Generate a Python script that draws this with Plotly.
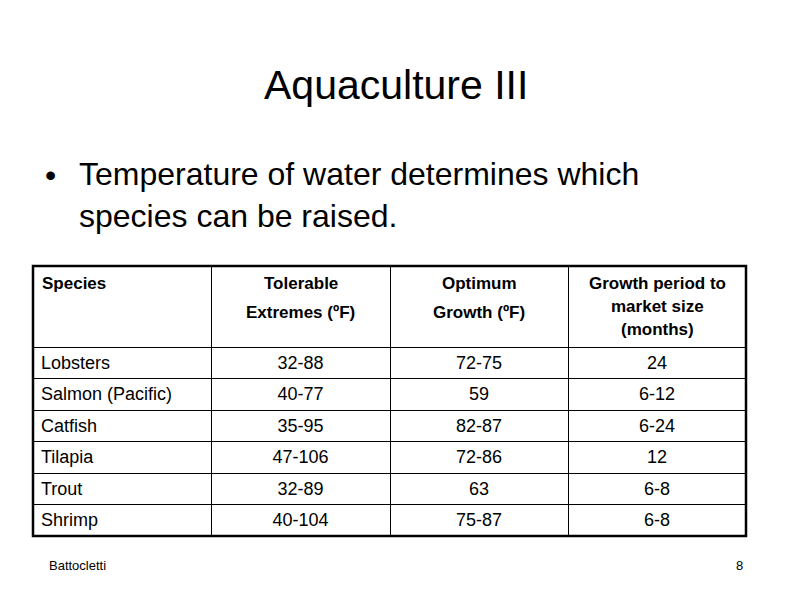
import plotly.graph_objects as go

species = ["Lobsters", "Salmon (Pacific)", "Catfish", "Tilapia", "Trout", "Shrimp"]
tolerable = ["32-88", "40-77", "35-95", "47-106", "32-89", "40-104"]
optimum = ["72-75", "59", "82-87", "72-86", "63", "75-87"]
growth = ["24", "6-12", "6-24", "12", "6-8", "6-8"]
header_lines = [
    ["Species"],
    ["Tolerable", "Extremes (ºF)"],
    ["Optimum", "Growth (ºF)"],
    ["Growth period to", "market size", "(months)"],
]

W, H = 792, 612
OFF = 8  # page body margin
font = "Liberation Sans, Arial"
x0, x1, y0, y1 = 33, 746, 266, 536
col_edges = [33, 211, 390, 568, 746]


def px(x):
    return (x - OFF) / W


def py(y):
    return 1 - (y - OFF) / H


fig = go.Figure(go.Table(
    domain=dict(x=[px(x0), px(x1)], y=[py(y1 + 2), py(y0)]),
    columnwidth=[178, 179, 178, 178],
    header=dict(values=["", "", "", ""], height=81, fill_color="white",
                line=dict(color="black", width=1)),
    cells=dict(values=[species, tolerable, optimum, growth],
               align=["left", "center", "center", "center"],
               height=31.5, fill_color="white", line=dict(color="black", width=1),
               font=dict(family=font, size=18, color="black")),
))

fig.add_shape(type="rect", xref="paper", yref="paper",
              x0=px(x0), x1=px(x1), y0=py(y1), y1=py(y0),
              line=dict(color="black", width=2.5))

# header text
line_y = {1: [283], 2: [283, 312], 3: [283, 306, 329]}
for i, lines in enumerate(header_lines):
    ys = line_y[len(lines)]
    for t, yy in zip(lines, ys):
        if i == 0:
            xx, anchor = 40, "left"
        else:
            xx, anchor = (col_edges[i] + col_edges[i + 1]) / 2, "center"
        fig.add_annotation(text=f"<b>{t}</b>", x=px(xx), y=py(yy), xref="paper", yref="paper",
                           xanchor=anchor, yanchor="middle", showarrow=False,
                           font=dict(family=font, size=17, color="black"))

fig.add_annotation(text="Aquaculture III", x=px(396), y=py(85), xref="paper", yref="paper",
                   xanchor="center", yanchor="middle",
                   showarrow=False, font=dict(family=font, size=41, color="black"))
fig.add_annotation(text="•", x=px(43), y=py(175), xref="paper", yref="paper",
                   xanchor="left", yanchor="middle",
                   showarrow=False, font=dict(family=font, size=32, color="black"))
fig.add_annotation(text="Temperature of water determines which<br>species can be raised.",
                   x=px(77), y=py(195), xref="paper", yref="paper",
                   xanchor="left", yanchor="middle",
                   align="left", showarrow=False, font=dict(family=font, size=32, color="black"))
fig.add_annotation(text="Battocletti", x=px(47), y=py(565), xref="paper", yref="paper",
                   xanchor="left", yanchor="middle",
                   showarrow=False, font=dict(family=font, size=13, color="black"))
fig.add_annotation(text="8", x=px(745), y=py(565), xref="paper", yref="paper",
                   xanchor="right", yanchor="middle",
                   showarrow=False, font=dict(family=font, size=13, color="black"))

fig.update_layout(width=W, height=H, margin=dict(l=0, r=0, t=0, b=0),
                  paper_bgcolor="white", plot_bgcolor="white",
                  xaxis=dict(visible=False), yaxis=dict(visible=False))

fig.write_html("out.html")
